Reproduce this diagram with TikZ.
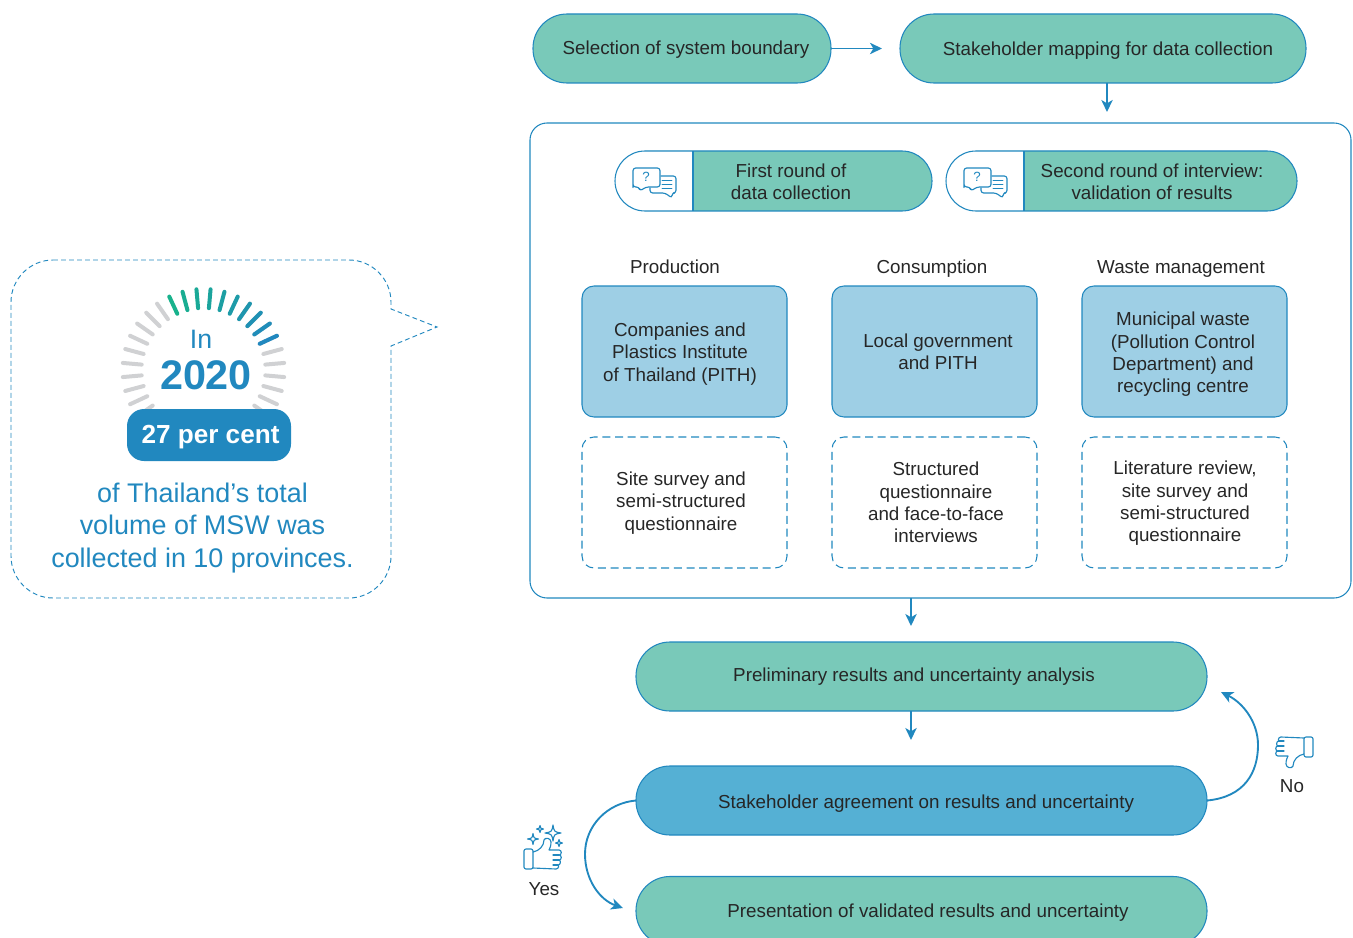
\documentclass[tikz,border=0pt]{standalone}
\usepackage{fontspec}
\setmainfont{Liberation Sans}
\usepackage{xcolor}
\definecolor{tealfill}{RGB}{121, 201, 185}
\definecolor{boxfill}{RGB}{158, 207, 229}
\definecolor{agreefill}{RGB}{85, 176, 212}
\definecolor{azul}{RGB}{33, 136, 191}
\definecolor{tinta}{RGB}{38, 38, 38}
\definecolor{gris}{RGB}{208, 209, 211}
\definecolor{verde}{RGB}{24, 178, 140}
\usetikzlibrary{positioning, arrows.meta}
\def\px{0.75pt}
\tikzset{
    every node/.style={outer sep=0pt, inner sep=0pt, text=tinta, align=center, font=\fontsize{14.1}{16.7}\selectfont},
    pill/.style={draw=azul, fill=tealfill, line width=0.8pt, rounded corners=34*\px, minimum height=69*\px},
    iconpill/.style={draw=azul, fill=tealfill, line width=0.8pt, rounded corners=30*\px, minimum height=60*\px,
        path picture={
            \fill[white, sharp corners] (path picture bounding box.south west) rectangle ([xshift=78*\px]path picture bounding box.north west);
            \draw[azul, line width=0.8pt, sharp corners] ([xshift=78*\px]path picture bounding box.south west) -- ([xshift=78*\px]path picture bounding box.north west);
        }},
    bluebox/.style={draw=azul, fill=boxfill, line width=0.8pt, rounded corners=12*\px, minimum width=205*\px, minimum height=131*\px},
    dashbox/.style={draw=azul, dash pattern=on 6pt off 3.5pt, line width=0.8pt, rounded corners=12*\px, minimum width=205*\px, minimum height=131*\px},
    flow/.style={azul, line width=1.4pt, -{Stealth[length=9pt, width=8.5pt, inset=2.5pt]}},
    icon/.style={azul, line width=0.85pt, line join=round, line cap=round},
    tick/.style={line width=3pt, line cap=round},
    chat/.pic={
        \draw[icon, rounded corners=2pt] (0,17) -- (0,0) -- (27,0) -- (27,19) -- (13,19) -- (7,23) -- (6,19) -- (0,19) -- cycle;
        \draw[icon, rounded corners=2pt] (28,8) -- (43,8) -- (43,25) -- (39,25) -- (39,30) -- (32,25) -- (17,25) -- (17,20);
        \draw[icon, line width=0.6pt] (29,12) -- (39,12) (29,16) -- (39,16) (29,20) -- (39,20);
        \node[text=azul, font=\fontsize{10}{10}\selectfont] (q) at (13,9) {?};
    },
    thumb/.pic={
        \draw[icon, rounded corners=1.5pt] (0,11) rectangle (9,31);
        \draw[icon] (9,14) .. controls (15,13) and (20,8) .. (20,2) .. controls (21,-1) and (27,0) .. (27,4) .. controls (27,8) and (26,10) .. (25,12)
            -- (35,12) .. controls (38,12) and (38,17) .. (35,17) .. controls (38,17) and (38,22) .. (35,22)
            .. controls (37,22) and (37,27) .. (34,27) .. controls (35,27) and (35,31) .. (32,31) -- (9,30);
        \draw[icon] (29,17) -- (35,17) (29,22) -- (35,22) (29,27) -- (34,27);
    },
    sparkle/.pic={
        \draw[icon] (0,-1) .. controls (0.15,-0.15) .. (1,0) .. controls (0.15,0.15) .. (0,1) .. controls (-0.15,0.15) .. (-1,0) .. controls (-0.15,-0.15) .. cycle;
    },
}
\begin{document}
\begin{tikzpicture}[x=0.75pt, y=-0.75pt]
    \useasboundingbox (0,0) rectangle (1353,938);
    \clip (0,0) rectangle (1353,938);

    % Callout
    \draw[azul, line width=0.7pt, dash pattern=on 3.6pt off 2.4pt] (53,260) -- (349,260) .. controls (372,260) and (391,279) .. (391,302) -- (391,309) -- (437,327) -- (391,346) -- (391,556) .. controls (391,579) and (372,598) .. (349,598) -- (53,598) .. controls (30,598) and (11,579) .. (11,556) -- (11,302) .. controls (11,279) and (30,260) .. (53,260) -- cycle;

    % Gauge
    \coordinate (gauge) at (203.5,370);
    \foreach \a in {125,135,...,215} {
        \draw[tick, gris] ([shift={(-\a:62)}]gauge) -- ([shift={(-\a:81)}]gauge);
        \draw[tick, gris] ([shift={(-\a+160:62)}]gauge) -- ([shift={(-\a+160:81)}]gauge);
    }
    \foreach \a in {25,35,...,115} {
        \pgfmathsetmacro{\mezcla}{(\a-25)/90*100}
        \draw[tick, verde!\mezcla!azul] ([shift={(-\a:62)}]gauge) -- ([shift={(-\a:81)}]gauge);
    }
    \node[text=azul, font=\fontsize{20}{20}\selectfont] (en) at (201,339) {In};
    \node[text=azul, font=\fontsize{31}{31}\selectfont\bfseries] (anio) at (206,375) {2020};
    \node[fill=azul, rounded corners=17*\px, minimum width=164*\px, minimum height=52*\px] (cifra) at (209,435) {};
    \node[text=white, font=\fontsize{19.6}{19.6}\selectfont\bfseries] (cifratxt) at (210.5,437) {27 per cent};
    \node[text=azul, font=\fontsize{20.2}{24.4}\selectfont] (resumen) at (202.5,528) {of Thailand’s total\\volume of MSW was\\collected in 10 provinces.};

    % Top row
    \node[pill, minimum width=298*\px] (sistema) at (682,48.5) {};
    \node[anchor=base] (sistematxt) at (686,55) {Selection of system boundary};
    \node[pill, minimum width=406*\px] (mapeo) at (1103,48.5) {};
    \node[anchor=base] (mapeotxt) at (1108,56) {Stakeholder mapping for data collection};
    \draw[flow, shorten >=18*\px] (sistema.east) -- (mapeo.west);

    % Frame
    \node[draw=azul, line width=0.8pt, rounded corners=17*\px, minimum width=821*\px, minimum height=475*\px] (marco) at (940.5,360.5) {};
    \draw[flow, shorten >=11*\px] ([xshift=3pt]mapeo.south) -- ([xshift=3pt]mapeo.south |- marco.north);

    % Interview rounds
    \node[iconpill, minimum width=317*\px] (ronda) at (773.5,181) {};
    \node (rondatxt) at (791,182) {First round of\\data collection};
    \pic at (633,168) {chat};
    \node[iconpill, minimum width=351*\px] (rondados) at (1121.5,181) {};
    \node (rondadostxt) at (1152,182) {Second round of interview:\\validation of results};
    \pic at (964,168) {chat};

    % Columns
    \node[anchor=base] (prod) at (675,273) {Production};
    \node[anchor=base] (cons) at (932,273) {Consumption};
    \node[anchor=base] (resi) at (1181,273) {Waste management};
    \node[bluebox] (a1) at (684.5,351.5) {};
    \node (a1txt) at (680,354) {Companies and\\Plastics Institute\\of Thailand (PITH)};
    \node[bluebox] (a2) at (934.5,351.5) {};
    \node (a2txt) at (938,352) {Local government\\and PITH};
    \node[bluebox] (a3) at (1184.5,351.5) {};
    \node (a3txt) at (1183,354.5) {Municipal waste\\(Pollution Control\\Department) and\\recycling centre};
    \node[dashbox] (b1) at (684.5,502.5) {};
    \node (b1txt) at (681,503) {Site survey and\\semi-structured\\questionnaire};
    \node[dashbox] (b2) at (934.5,502.5) {};
    \node (b2txt) at (936,502.5) {Structured\\questionnaire\\and face-to-face\\interviews};
    \node[dashbox] (b3) at (1184.5,502.5) {};
    \node (b3txt) at (1185,503.5) {Literature review,\\site survey and\\semi-structured\\questionnaire};

    % Bottom pills
    \node[pill, minimum width=571*\px] (prelim) at (921.5,676.5) {};
    \node[anchor=base] (prelimtxt) at (914,681) {Preliminary results and uncertainty analysis};
    \node[pill, fill=agreefill, minimum width=571*\px] (acuerdo) at (921.5,800.5) {};
    \node[anchor=base] (acuerdotxt) at (926,808) {Stakeholder agreement on results and uncertainty};
    \node[pill, minimum width=571*\px] (final) at (921.5,911) {};
    \node[anchor=base] (finaltxt) at (928,917) {Presentation of validated results and uncertainty};

    % Arrows
    \coordinate (marcosal) at (911,598);
    \coordinate (prelimin) at (911,626);
    \coordinate (prelimsal) at (911,711);
    \coordinate (acuerdoin) at (911,740);
    \coordinate (nofin) at (1221,692);
    \coordinate (sifin) at (623,908);
    \draw[flow] (marcosal) -- (prelimin);
    \draw[flow] (prelimsal) -- (acuerdoin);
    \draw[flow] (acuerdo.east) .. controls (1245,797) and (1258,772) .. (1258,745) .. controls (1258,722) and (1243,703) .. (nofin);
    \draw[flow] (acuerdo.west) .. controls (607,803) and (585,826) .. (585,854) .. controls (585,880) and (600,900) .. (sifin);

    % Thumbs
    \pic at (524,838) {thumb};
    \pic[scale=8] at (553,833) {sparkle};
    \pic[scale=5.5] at (533,839) {sparkle};
    \pic[scale=3.5] at (540,829) {sparkle};
    \pic[scale=3.5] at (559,843) {sparkle};
    \node (si) at (544,889) {Yes};
    \pic[rotate=180] at (1313,768) {thumb};
    \node (no) at (1292,786) {No};
\end{tikzpicture}
\end{document}
